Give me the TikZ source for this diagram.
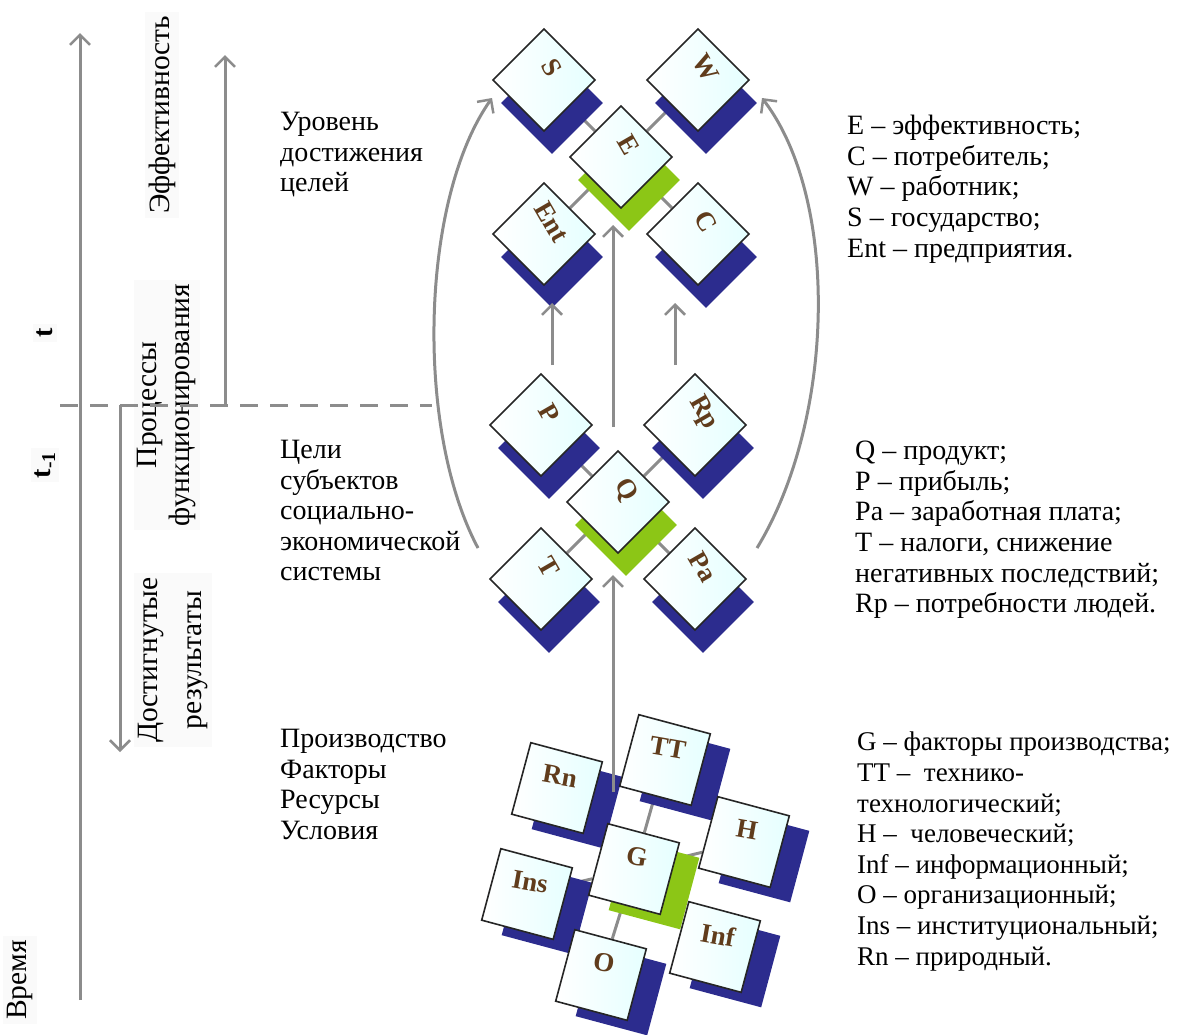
\documentclass[tikz,border=0pt]{standalone}
\usepackage{fontspec}
\setmainfont{Liberation Serif}
\usetikzlibrary{arrows.meta,backgrounds}

\definecolor{tileblue}{RGB}{44,44,142}
\definecolor{tilegreen}{RGB}{140,198,22}
\definecolor{axisgray}{RGB}{140,140,140}
\definecolor{letterbrown}{RGB}{96,60,28}

\tikzset{
  tile/.style={draw=black!85, line width=1.6pt, inner sep=0pt,
    left color=white, right color=cyan!10},
  tileshadow/.style={inner sep=0pt},
  tiletext/.style={text=letterbrown, inner sep=0pt,
    font=\fontsize{27}{27}\selectfont\bfseries},
  grayarrow/.style={draw=axisgray, line width=3pt,
    -{Straight Barb[length=10pt,width=20pt,line width=2.5pt]}},
  link/.style={draw=axisgray, line width=3pt},
  sidetext/.style={align=left, anchor=north west, inner sep=0pt,
    font=\fontsize{28}{30.6}\selectfont},
  vtext/.style={rotate=90, fill=black!2, align=center, inner sep=4pt,
    font=\fontsize{29.5}{33}\selectfont}
}

\begin{document}
\begin{tikzpicture}[x=1pt,y=-1pt]
\useasboundingbox (0,0) rectangle (1180,1034);

% time axis and periods
\coordinate (time-a) at (80,1000);
\coordinate (time-b) at (80,33);
\coordinate (now-a) at (60,405);
\coordinate (now-b) at (432,405);
\coordinate (eff-a) at (225,407);
\coordinate (eff-b) at (225,55);
\coordinate (res-a) at (120,405);
\coordinate (res-b) at (120,752);

\node[vtext] (eff-t) at (162,115) {Эффективность};
\node[vtext] (proc-t) at (167,405) {Процессы\\функционирования};
\node[vtext, font=\fontsize{29.5}{44}\selectfont] (res-t) at (173,660) {Достигнутые\\результаты};
\node[vtext, font=\fontsize{28}{28}\selectfont\bfseries] (t-now) at (45,333) {t};
\node[vtext, font=\fontsize{28}{28}\selectfont\bfseries] (t-prev) at (45,465) {t\textsubscript{-1}};
\node[vtext] (time-t) at (20,980) {Время};

\draw[grayarrow] (time-a) -- (time-b);
\draw[axisgray, line width=3pt, dash pattern=on 18pt off 12pt] (now-a) -- (now-b);
\draw[grayarrow] (eff-a) -- (eff-b);
\draw[grayarrow] (res-a) -- (res-b);

% goals level
\foreach \n/\x/\y/\c in {E/621/157/tilegreen, S/544/80/tileblue, W/698/80/tileblue,
    Ent/544/234/tileblue, C/698/234/tileblue,
    Q/618/502/tilegreen, P/541/425/tileblue, Rp/695/425/tileblue,
    T/541/579/tileblue, Pa/695/579/tileblue}
  \node[tileshadow, fill=\c, minimum size=72pt, rotate=45] (\n-s) at (\x+8,\y+23) {};
\foreach \n/\x/\y in {E/621/157, S/544/80, W/698/80, Ent/544/234, C/698/234,
    Q/618/502, P/541/425, Rp/695/425, T/541/579, Pa/695/579}
  \node[tile, minimum size=72pt, rotate=45] (\n) at (\x,\y) {};
\foreach \n/\x/\y in {E/621/157, S/544/80, W/698/80, Ent/544/234, C/698/234,
    Q/618/502, P/541/425, Rp/695/425, T/541/579, Pa/695/579}
  \node[tiletext, rotate=-60] (\n-l) at (\x+8,\y-12) {\n};

% factors of production
\foreach \n/\x/\y/\c in {G/634/869/tilegreen, TT/665/760/tileblue, Rn/557/788/tileblue,
    H/744/842/tileblue, Ins/527/894/tileblue, Inf/715/947/tileblue, O/601/975/tileblue}
  \node[tileshadow, fill=\c, minimum size=74pt, rotate=-15] (\n-s) at (\x+20,\y+15) {};
\foreach \n/\x/\y in {G/634/869, TT/665/760, Rn/557/788, H/744/842,
    Ins/527/894, Inf/715/947, O/601/975}
  \node[tile, minimum size=74pt, rotate=-15] (\n) at (\x,\y) {};
\foreach \n/\x/\y in {G/634/869, TT/665/760, Rn/557/788, H/744/842,
    Ins/527/894, Inf/715/947, O/601/975}
  \node[tiletext, rotate=-10] (\n-l) at (\x+3,\y-12) {\n};

\begin{scope}[on background layer]
  \foreach \a/\b in {E/S, E/W, E/Ent, E/C, Q/P, Q/Rp, Q/T, Q/Pa, G/TT, G/H, G/Ins, G/O}
    \draw[link] (\a) -- (\b);
\end{scope}

% arrows between levels
\coordinate (gq-a) at (613,792);
\coordinate (gq-b) at (613,575);
\coordinate (qe-a) at (613,427);
\coordinate (qe-b) at (613,225);
\coordinate (pl-a) at (552,365);
\coordinate (pl-b) at (552,303);
\coordinate (pr-a) at (675,365);
\coordinate (pr-b) at (675,303);
\coordinate (cl-a) at (478,548);
\coordinate (cl-b) at (492,98);
\coordinate (cr-a) at (757,548);
\coordinate (cr-b) at (762,98);
\draw[grayarrow] (gq-a) -- (gq-b);
\draw[grayarrow] (qe-a) -- (qe-b);
\draw[grayarrow] (pl-a) -- (pl-b);
\draw[grayarrow] (pr-a) -- (pr-b);
\draw[grayarrow] (cl-a) .. controls (415,430) and (420,200) .. (cl-b);
\draw[grayarrow] (cr-a) .. controls (835,420) and (840,200) .. (cr-b);

% captions
\node[sidetext] (goal-t) at (280,112) {Уровень\\достижения\\целей};
\node[sidetext] (aim-t) at (280,440) {Цели\\субъектов\\социально-\\экономической\\системы};
\node[sidetext] (fact-t) at (280,729) {Производство\\Факторы\\Ресурсы\\Условия};

\node[sidetext] (e-key) at (847,115) {E – эффективность;\\C – потребитель;\\W – работник;\\S – государство;\\Ent – предприятия.};
\node[sidetext] (q-key) at (855,441) {Q – продукт;\\P – прибыль;\\Pa – заработная плата;\\T – налоги, снижение\\негативных последствий;\\Rp – потребности людей.};
\node[sidetext, font=\fontsize{27}{30.6}\selectfont] (g-key) at (857,732) {G – факторы производства;\\TT –\ \ технико-\\технологический;\\H –\ \ человеческий;\\Inf – информационный;\\O – организационный;\\Ins – институциональный;\\Rn – природный.};
\end{tikzpicture}
\end{document}
